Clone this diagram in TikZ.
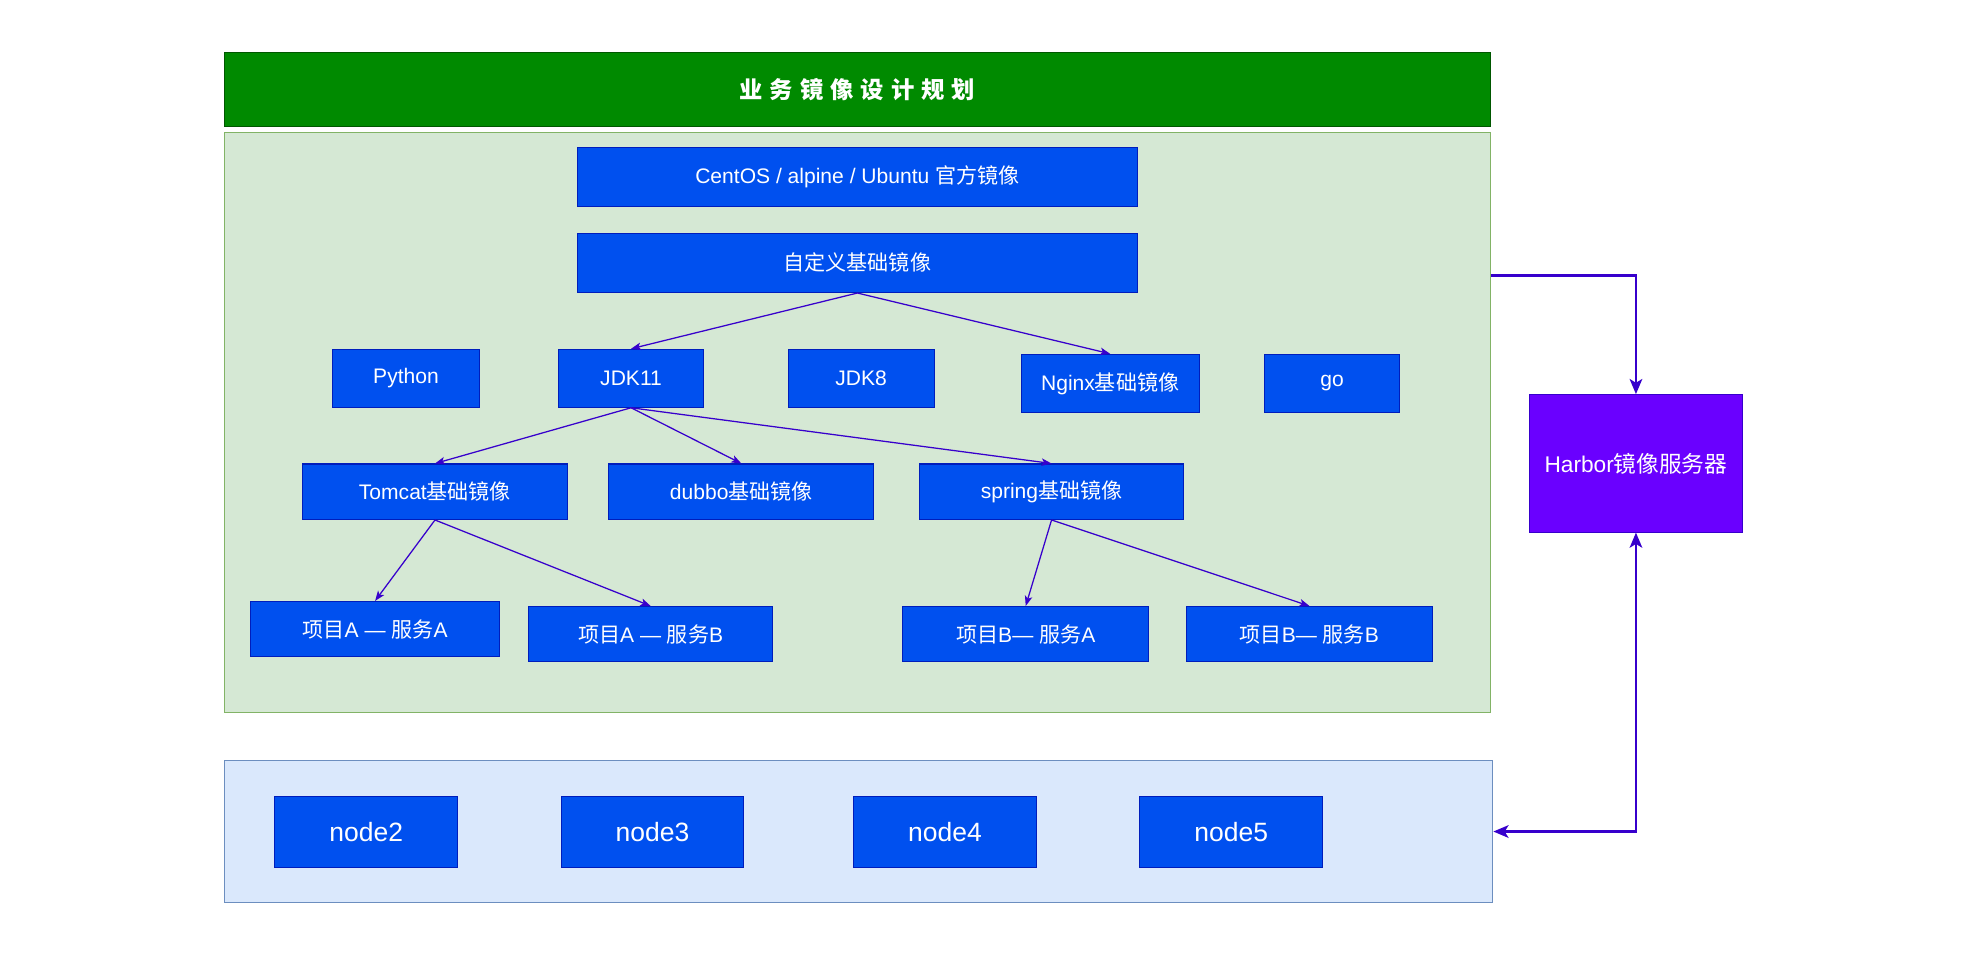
\documentclass[tikz,border=0pt]{standalone}
\usepackage{fontspec}
\setmainfont{Liberation Sans}
\newfontfamily\cjk{Noto Sans CJK SC}
\newfontfamily\titlecjk[LetterSpace=30]{Noto Sans CJK SC}
\usepackage{xcolor}
\usetikzlibrary{arrows.meta,calc}

\definecolor{titlegreen}{HTML}{008A00}
\definecolor{titleline}{HTML}{005700}
\definecolor{panelgreen}{HTML}{D5E8D4}
\definecolor{panelgreenline}{HTML}{82B366}
\definecolor{panelblue}{HTML}{DAE8FC}
\definecolor{panelblueline}{HTML}{6C8EBF}
\definecolor{boxblue}{HTML}{0050EF}
\definecolor{boxline}{HTML}{001DBC}
\definecolor{harborfill}{HTML}{6A00FF}
\definecolor{linkcol}{HTML}{3700CC}

\tikzset{
  imgbox/.style={draw=boxline, fill=boxblue, text=white, line width=0.8pt,
    inner sep=0pt, font=\fontsize{16.7}{20}\selectfont},
  hostbox/.style={imgbox, font=\fontsize{21}{25}\selectfont},
  treelink/.style={draw=linkcol, line width=1pt, -{Stealth[length=8pt,width=6pt,inset=2pt]}},
  synclink/.style={draw=linkcol, line width=2pt, -{Stealth[length=12pt,width=10pt,inset=3pt]}}
}

\begin{document}
\begin{tikzpicture}[x=1pt,y=-1pt]
\useasboundingbox (0,0) rectangle (1568,774);

% panels
\node[draw=titleline, fill=titlegreen, text=white, line width=0.8pt, minimum width=1004pt, minimum height=58pt,
  font=\fontsize{18.5}{22}\selectfont\titlecjk\bfseries] (title) at (680,71) {业务镜像设计规划};
\node[draw=panelgreenline, fill=panelgreen, line width=0.8pt, minimum width=1004pt, minimum height=460pt] (green) at (680,335) {};
\node[draw=panelblueline, fill=panelblue, line width=0.8pt, minimum width=1006pt, minimum height=113pt] (blue) at (681,659.5) {};

% image tree
\node[imgbox, minimum width=444pt, minimum height=47pt] (os) at (680,140.5) {CentOS / alpine / Ubuntu {\cjk 官方镜像}};
\node[imgbox, minimum width=444pt, minimum height=47pt] (base) at (680,208.5) {\cjk 自定义基础镜像};

\node[imgbox, minimum width=116pt, minimum height=46pt] (python) at (322,300) {Python};
\node[imgbox, minimum width=115pt, minimum height=46pt] (jdk11) at (500.5,300) {JDK11};
\node[imgbox, minimum width=116pt, minimum height=46pt] (jdk8) at (683,300) {JDK8};
\node[imgbox, minimum width=141pt, minimum height=46pt] (nginx) at (880.5,304) {Nginx{\cjk 基础镜像}};
\node[imgbox, minimum width=107pt, minimum height=46pt] (go) at (1056.5,304) {go};

\node[imgbox, minimum width=210pt, minimum height=44pt] (tomcat) at (345,390) {Tomcat{\cjk 基础镜像}};
\node[imgbox, minimum width=210pt, minimum height=44pt] (dubbo) at (588,390) {dubbo{\cjk 基础镜像}};
\node[imgbox, minimum width=210pt, minimum height=44pt] (spring) at (834,390) {spring{\cjk 基础镜像}};

\node[imgbox, minimum width=197pt, minimum height=44pt] (paa) at (297.5,499) {{\cjk 项目}A — {\cjk 服务}A};
\node[imgbox, minimum width=194pt, minimum height=44pt] (pab) at (516,503) {{\cjk 项目}A — {\cjk 服务}B};
\node[imgbox, minimum width=195pt, minimum height=44pt] (pba) at (813.5,503) {{\cjk 项目}B— {\cjk 服务}A};
\node[imgbox, minimum width=195pt, minimum height=44pt] (pbb) at (1038.5,503) {{\cjk 项目}B— {\cjk 服务}B};

% registry
\node[draw=linkcol, fill=harborfill, text=white, line width=0.8pt, inner sep=0pt, minimum width=169pt, minimum height=109pt,
  font=\fontsize{18}{22}\selectfont] (harbor) at (1297.5,367.5) {Harbor{\cjk 镜像服务器}};

% hosts
\node[hostbox, minimum width=145pt, minimum height=56pt] (node2) at (290.5,660) {node2};
\node[hostbox, minimum width=145pt, minimum height=56pt] (node3) at (517.5,660) {node3};
\node[hostbox, minimum width=145pt, minimum height=56pt] (node4) at (749.5,660) {node4};
\node[hostbox, minimum width=145pt, minimum height=56pt] (node5) at (976.5,660) {node5};

% links
\draw[treelink] (base.south) -- (jdk11.north);
\draw[treelink] (base.south) -- (nginx.north);
\draw[treelink] (jdk11.south) -- (tomcat.north);
\draw[treelink] (jdk11.south) -- (dubbo.north);
\draw[treelink] (jdk11.south) -- (spring.north);
\draw[treelink] (tomcat.south) -- (paa.north);
\draw[treelink] (tomcat.south) -- (pab.north);
\draw[treelink] (spring.south) -- (pba.north);
\draw[treelink] (spring.south) -- (pbb.north);

\coordinate (push) at ($(green.north east)+(0,114)$);
\draw[synclink] (push) -| (harbor.north);
\draw[synclink, {Stealth[length=12pt,width=10pt,inset=3pt]}-{Stealth[length=12pt,width=10pt,inset=3pt]}] (harbor.south) |- (blue.east);
\end{tikzpicture}
\end{document}
